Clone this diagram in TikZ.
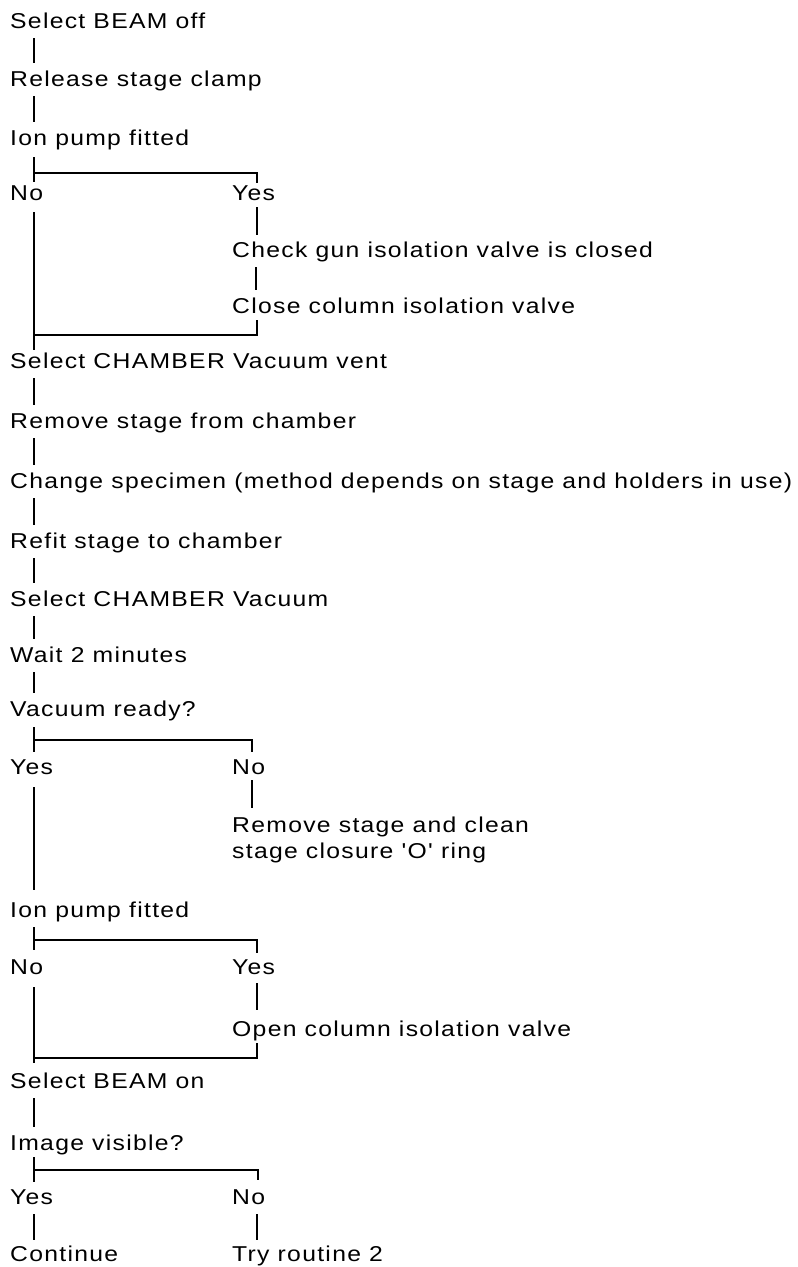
\documentclass[tikz,border=0pt]{standalone}
\usepackage{fontspec}
\setmainfont[LetterSpace=6,FakeStretch=1.15,Ligatures=TeXOff]{Liberation Sans}
\usetikzlibrary{calc}
\tikzset{
  txt/.style={anchor=base west, inner sep=0pt, font=\fontsize{21.5}{26}\selectfont},
  conn/.style={line width=2pt, black},
}
\newcommand\vlink[2]{\draw[conn] ($(#1.base west)+(24,10)$) -- ($(#2.base west)+(24,-23)$);}
\begin{document}
\begin{tikzpicture}[x=1pt,y=-1pt]
\useasboundingbox (0,0) rectangle (798,1267);
\node[txt] (s1) at (10,28) {Select BEAM off};
\node[txt] (s2) at (10,86) {Release stage clamp};
\node[txt] (s3) at (10,145) {Ion pump fitted};
\node[txt] (no1) at (10,200) {No};
\node[txt] (yes1) at (232,200) {Yes};
\node[txt] (check) at (232,257) {Check gun isolation valve is closed};
\node[txt] (close) at (232,313) {Close column isolation valve};
\node[txt] (vent) at (10,368) {Select CHAMBER Vacuum vent};
\node[txt] (remove) at (10,428) {Remove stage from chamber};
\node[txt] (change) at (10,488) {Change specimen (method depends on stage and holders in use)};
\node[txt] (refit) at (10,548) {Refit stage to chamber};
\node[txt] (vac) at (10,606) {Select CHAMBER Vacuum};
\node[txt] (wait) at (10,662) {Wait 2 minutes};
\node[txt] (ready) at (10,716) {Vacuum ready?};
\node[txt] (yes2) at (10,774) {Yes};
\node[txt] (no2) at (232,774) {No};
\node[txt] (clean1) at (232,832) {Remove stage and clean};
\node[txt] (clean2) at (232,858) {stage closure 'O' ring};
\node[txt] (ion2) at (10,917) {Ion pump fitted};
\node[txt] (no3) at (10,974) {No};
\node[txt] (yes3) at (232,974) {Yes};
\node[txt] (open) at (232,1036) {Open column isolation valve};
\node[txt] (beamon) at (10,1088) {Select BEAM on};
\node[txt] (image) at (10,1150) {Image visible?};
\node[txt] (yes4) at (10,1204) {Yes};
\node[txt] (no4) at (232,1204) {No};
\node[txt] (cont) at (10,1261) {Continue};
\node[txt] (try) at (232,1261) {Try routine 2};
% simple links
\vlink{s1}{s2}
\vlink{s2}{s3}
\vlink{check}{close}
\vlink{vent}{remove}
\vlink{remove}{change}
\vlink{change}{refit}
\vlink{refit}{vac}
\vlink{vac}{wait}
\vlink{wait}{ready}
\vlink{beamon}{image}
\draw[conn] ($(yes1.base west)+(25,7)$) -- ($(check.base west)+(25,-22)$);
% branch 1
\draw[conn] ($(s3.base west)+(24,12)$) -- ($(no1.base west)+(24,-18)$);
\draw[conn] ($(s3.base west)+(24,28)$) -| ($(yes1.base west)+(25,-17)$);
\draw[conn] ($(no1.base west)+(24,12)$) -- ($(vent.base west)+(24,-18)$);
\draw[conn] ($(close.base west)+(25,7)$) |- ($(vent.base west)+(24,-33)$);
% branch 2
\draw[conn] ($(ready.base west)+(24,11)$) -- ($(yes2.base west)+(24,-22)$);
\draw[conn] ($(ready.base west)+(24,24)$) -| ($(no2.base west)+(20,-22)$);
\draw[conn] ($(no2.base west)+(20,6)$) -- ($(clean1.base west)+(20,-24)$);
\draw[conn] ($(yes2.base west)+(24,13)$) -- ($(ion2.base west)+(24,-27)$);
% branch 3
\draw[conn] ($(ion2.base west)+(24,10)$) -- ($(no3.base west)+(24,-24)$);
\draw[conn] ($(ion2.base west)+(24,23)$) -| ($(yes3.base west)+(25,-21)$);
\draw[conn] ($(yes3.base west)+(25,9)$) -- ($(open.base west)+(25,-26)$);
\draw[conn] ($(no3.base west)+(24,13)$) -- ($(beamon.base west)+(24,-25)$);
\draw[conn] ($(open.base west)+(25,7)$) |- ($(beamon.base west)+(24,-30)$);
% branch 4
\draw[conn] ($(image.base west)+(24,7)$) -- ($(yes4.base west)+(24,-22)$);
\draw[conn] ($(image.base west)+(24,20)$) -| ($(no4.base west)+(26,-24)$);
\draw[conn] ($(yes4.base west)+(24,10)$) -- ($(cont.base west)+(24,-21)$);
\draw[conn] ($(no4.base west)+(25,10)$) -- ($(try.base west)+(25,-21)$);
\end{tikzpicture}
\end{document}
